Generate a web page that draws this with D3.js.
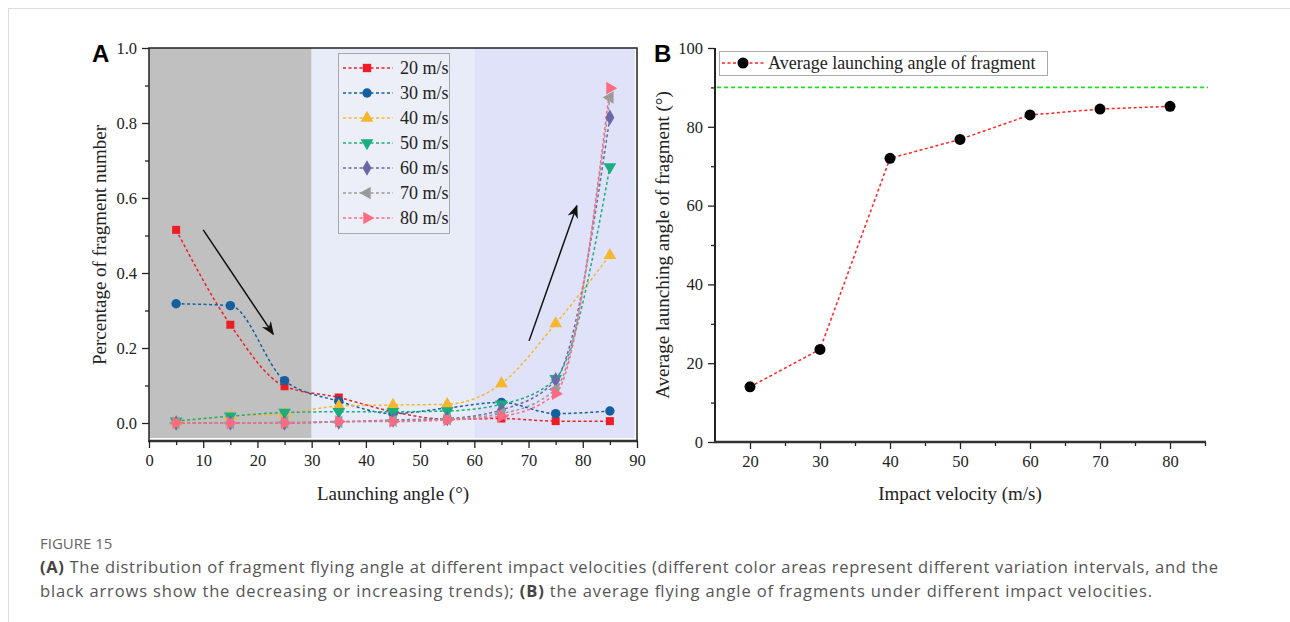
<!DOCTYPE html>
<html>
<head>
<meta charset="utf-8">
<script src="https://cdn.jsdelivr.net/npm/d3@7"></script>
<style>
  body { margin: 0; background: #fff; }
  svg { display: block; }
  .serif { font-family: "Liberation Serif", "Times New Roman", serif; }
</style>
</head>
<body>
<svg width="1290" height="622"></svg>
<script>
var svg = d3.select("svg");

// ---- data ----
var angles = [5, 15, 25, 35, 45, 55, 65, 75, 85];
var seriesNames = ["20 m/s", "30 m/s", "40 m/s", "50 m/s", "60 m/s", "70 m/s", "80 m/s"];
var v20 = [0.515, 0.262, 0.098, 0.068, 0.030, 0.010, 0.012, 0.005, 0.005];
var v30 = [0.318, 0.313, 0.113, 0.058, 0.025, 0.040, 0.055, 0.025, 0.032];
var v40 = [0.003, 0.018, 0.025, 0.045, 0.048, 0.050, 0.105, 0.265, 0.447];
var v50 = [0.005, 0.018, 0.028, 0.030, 0.030, 0.032, 0.050, 0.118, 0.683];
var v60 = [0.000, 0.000, 0.000, 0.003, 0.008, 0.012, 0.035, 0.115, 0.815];
var v70 = [0.000, 0.000, 0.002, 0.003, 0.006, 0.010, 0.025, 0.090, 0.868];
var v80 = [0.000, 0.000, 0.000, 0.004, 0.004, 0.008, 0.018, 0.078, 0.893];
var bands = [[0, 30], [30, 60], [60, 89.6]];
var arrows = [[[10, 0.515], [22.9, 0.237]], [[70.1, 0.219], [78.9, 0.579]]];

var velocities = [20, 30, 40, 50, 60, 70, 80];
var avgAngle = [14.0, 23.5, 72.0, 76.8, 83.0, 84.5, 85.2];
var refAngle = 90;

var allSeries = [v20, v30, v40, v50, v60, v70, v80];
var colors = ["#ee1c25", "#14609f", "#f6b72f", "#1aae7c", "#6a68a8", "#9a9a9a", "#fd6b82"];
var symbols = [d3.symbolSquare, d3.symbolCircle, d3.symbolTriangle, "down", d3.symbolDiamond, "left", "right"];
var bandColors = ["#c0c0c0", "#e8ecf8", "#dfe2f8"];

// ---- outer frame ----
svg.append("line").attr("x1", 8).attr("x2", 1290).attr("y1", 8.5).attr("y2", 8.5).attr("stroke", "#dcdcdc");
svg.append("line").attr("x1", 8.5).attr("x2", 8.5).attr("y1", 8).attr("y2", 622).attr("stroke", "#dcdcdc");

function marker(g, sym, color, size) {
  var base = (sym === "down" || sym === "left" || sym === "right") ? d3.symbolTriangle : sym;
  var rot = sym === "down" ? 180 : sym === "left" ? -90 : sym === "right" ? 90 : 0;
  g.append("path").attr("d", d3.symbol(base, size)()).attr("fill", color)
    .attr("transform", "rotate(" + rot + ")");
}

// ================= Panel A =================
var xA = d3.scaleLinear().domain([0, 90]).range([149, 637]);
var yA = d3.scaleLinear().domain([-0.048, 1.0]).range([441, 48]);

var gA = svg.append("g");
gA.selectAll("rect.band").data(bands).enter().append("rect")
  .attr("x", function(d) { return xA(d[0]); })
  .attr("width", function(d) { return xA(d[1]) - xA(d[0]); })
  .attr("y", yA(1.0))
  .attr("height", yA(-0.04) - yA(1.0))
  .attr("fill", function(d, i) { return bandColors[i]; });

// frame
gA.append("rect").attr("x", 149).attr("y", 48).attr("width", 488).attr("height", 393)
  .attr("fill", "none").attr("stroke", "#222").attr("stroke-width", 1.5);
gA.append("line").attr("x1", 148).attr("x2", 638).attr("y1", 441).attr("y2", 441)
  .attr("stroke", "#333").attr("stroke-width", 2.5);

gA.append("g").attr("class", "serif").attr("transform", "translate(0,441)")
  .call(d3.axisBottom(xA).tickValues(d3.range(0, 91, 10)).tickSize(7).tickPadding(6).tickFormat(d3.format("d")));
gA.append("g").attr("transform", "translate(0,441)")
  .call(d3.axisBottom(xA).tickValues(d3.range(5, 90, 10)).tickSize(4).tickFormat(""));
gA.append("g").attr("class", "serif").attr("transform", "translate(149,0)")
  .call(d3.axisLeft(yA).tickValues(d3.range(0, 1.01, 0.2)).tickSize(7).tickPadding(5).tickFormat(d3.format(".1f")));
gA.append("g").attr("transform", "translate(149,0)")
  .call(d3.axisLeft(yA).tickValues([0.1, 0.3, 0.5, 0.7, 0.9]).tickSize(4).tickFormat(""));
gA.selectAll(".domain").remove();
gA.selectAll(".tick line").attr("stroke", "#222").attr("stroke-width", 1.3);
gA.selectAll(".tick text").attr("font-size", 16.5).attr("fill", "#222");

var lineA = d3.line().x(function(d, i) { return xA(angles[i]); }).y(function(d) { return yA(d); })
  .curve(d3.curveMonotoneX);

allSeries.forEach(function(s, k) {
  gA.append("path").datum(s).attr("d", lineA).attr("fill", "none")
    .attr("stroke", colors[k]).attr("stroke-width", 1.5).attr("stroke-dasharray", "3,2.5");
});
allSeries.forEach(function(s, k) {
  s.forEach(function(v, i) {
    var g = gA.append("g").attr("transform", "translate(" + xA(angles[i]) + "," + yA(v) + ")");
    marker(g, symbols[k], colors[k], k === 0 ? 64 : 70);
  });
});

// arrows
var defs = svg.append("defs");
defs.append("marker").attr("id", "ah").attr("viewBox", "0 0 10 10").attr("refX", 9).attr("refY", 5)
  .attr("markerWidth", 9).attr("markerHeight", 9).attr("orient", "auto")
  .append("path").attr("d", "M0,1 L10,5 L0,9 L3,5 Z").attr("fill", "#111");
arrows.forEach(function(a) {
  gA.append("line").attr("x1", xA(a[0][0])).attr("y1", yA(a[0][1]))
    .attr("x2", xA(a[1][0])).attr("y2", yA(a[1][1]))
    .attr("stroke", "#111").attr("stroke-width", 1.5).attr("marker-end", "url(#ah)");
});

// legend A
var legA = gA.append("g").attr("class", "serif");
legA.append("rect").attr("x", 338.5).attr("y", 53.5).attr("width", 111).attr("height", 180)
  .attr("fill", "#eceef8").attr("stroke", "#aaa").attr("stroke-width", 1);
seriesNames.forEach(function(n, k) {
  var yy = 68 + k * 25;
  legA.append("line").attr("x1", 343).attr("x2", 393).attr("y1", yy).attr("y2", yy)
    .attr("stroke", colors[k]).attr("stroke-width", 1.5).attr("stroke-dasharray", "3,2.5");
  var g = legA.append("g").attr("transform", "translate(367," + yy + ")");
  marker(g, symbols[k], colors[k], 70);
  legA.append("text").attr("x", 400).attr("y", yy + 6).attr("font-size", 18).attr("fill", "#222").text(n);
});

// labels A
svg.append("text").attr("x", 92).attr("y", 62).attr("font-family", "Liberation Sans, Arial, sans-serif")
  .attr("font-weight", "bold").attr("font-size", 24).attr("fill", "#000").text("A");
svg.append("text").attr("class", "serif").attr("transform", "translate(106,245) rotate(-90)")
  .attr("text-anchor", "middle").attr("font-size", 19).attr("fill", "#222").text("Percentage of fragment number");
svg.append("text").attr("class", "serif").attr("x", 393).attr("y", 500)
  .attr("text-anchor", "middle").attr("font-size", 19).attr("fill", "#222").text("Launching angle (°)");

// ================= Panel B =================
var xB = d3.scaleLinear().domain([15, 85]).range([715, 1205]);
var yB = d3.scaleLinear().domain([0, 100]).range([442, 48]);
var gB = svg.append("g");

gB.append("g").attr("class", "serif").attr("transform", "translate(0,442)")
  .call(d3.axisBottom(xB).tickValues(velocities).tickSize(7).tickPadding(6).tickFormat(d3.format("d")));
gB.append("g").attr("transform", "translate(0,442)")
  .call(d3.axisBottom(xB).tickValues([25, 35, 45, 55, 65, 75, 85]).tickSize(4).tickFormat(""));
gB.append("g").attr("class", "serif").attr("transform", "translate(715,0)")
  .call(d3.axisLeft(yB).tickValues(d3.range(0, 101, 20)).tickSize(7).tickPadding(5).tickFormat(d3.format("d")));
gB.append("g").attr("transform", "translate(715,0)")
  .call(d3.axisLeft(yB).tickValues([10, 30, 50, 70, 90]).tickSize(4).tickFormat(""));
gB.selectAll(".domain").remove();
gB.selectAll(".tick line").attr("stroke", "#222").attr("stroke-width", 1.3);
gB.selectAll(".tick text").attr("font-size", 16.5).attr("fill", "#222");
gB.append("line").attr("x1", 715).attr("x2", 715).attr("y1", 48).attr("y2", 443)
  .attr("stroke", "#222").attr("stroke-width", 2);
gB.append("line").attr("x1", 714).attr("x2", 1206).attr("y1", 442).attr("y2", 442)
  .attr("stroke", "#333").attr("stroke-width", 2.5);

gB.append("line").attr("x1", 717).attr("x2", 1208).attr("y1", yB(refAngle)).attr("y2", yB(refAngle))
  .attr("stroke", "#1fe01f").attr("stroke-width", 1.6).attr("stroke-dasharray", "4,3");

var lineB = d3.line().x(function(d, i) { return xB(velocities[i]); }).y(function(d) { return yB(d); });
gB.append("path").datum(avgAngle).attr("d", lineB).attr("fill", "none")
  .attr("stroke", "#f22").attr("stroke-width", 1.5).attr("stroke-dasharray", "3,2.5");
gB.selectAll("circle.pt").data(avgAngle).enter().append("circle")
  .attr("cx", function(d, i) { return xB(velocities[i]); })
  .attr("cy", function(d) { return yB(d); })
  .attr("r", 5.5).attr("fill", "#000");

var legB = gB.append("g").attr("class", "serif");
legB.append("rect").attr("x", 719.5).attr("y", 51.5).attr("width", 328).attr("height", 24)
  .attr("fill", "#fff").attr("stroke", "#aaa");
legB.append("line").attr("x1", 722).attr("x2", 764).attr("y1", 63).attr("y2", 63)
  .attr("stroke", "#f22").attr("stroke-width", 1.5).attr("stroke-dasharray", "3,2.5");
legB.append("circle").attr("cx", 743).attr("cy", 63).attr("r", 5.5).attr("fill", "#000");
legB.append("text").attr("x", 768).attr("y", 69).attr("font-size", 18).attr("fill", "#222")
  .text("Average launching angle of fragment");

svg.append("text").attr("x", 654).attr("y", 62).attr("font-family", "Liberation Sans, Arial, sans-serif")
  .attr("font-weight", "bold").attr("font-size", 24).attr("fill", "#000").text("B");
svg.append("text").attr("class", "serif").attr("transform", "translate(669,245) rotate(-90)")
  .attr("text-anchor", "middle").attr("font-size", 19).attr("fill", "#222").text("Average launching angle of fragment (°)");
svg.append("text").attr("class", "serif").attr("x", 960).attr("y", 500)
  .attr("text-anchor", "middle").attr("font-size", 19).attr("fill", "#222").text("Impact velocity (m/s)");

// ================= Caption =================
var cap = svg.append("g").attr("font-family", "'Open Sans', 'Noto Sans', sans-serif").attr("fill", "#555");
cap.append("text").attr("x", 40).attr("y", 549).attr("font-size", 15).attr("fill", "#666").text("FIGURE 15");
var l1 = cap.append("text").attr("x", 40).attr("y", 573).attr("font-size", 16.5)
  .attr("textLength", 1178).attr("lengthAdjust", "spacing");
l1.append("tspan").attr("font-weight", "bold").attr("fill", "#444").text("(A)");
l1.append("tspan").text(" The distribution of fragment flying angle at different impact velocities (different color areas represent different variation intervals, and the");
var l2 = cap.append("text").attr("x", 40).attr("y", 597).attr("font-size", 16.5)
  .attr("textLength", 1112).attr("lengthAdjust", "spacing");
l2.append("tspan").text("black arrows show the decreasing or increasing trends); ");
l2.append("tspan").attr("font-weight", "bold").attr("fill", "#444").text("(B)");
l2.append("tspan").text(" the average flying angle of fragments under different impact velocities.");
</script>
</body>
</html>
